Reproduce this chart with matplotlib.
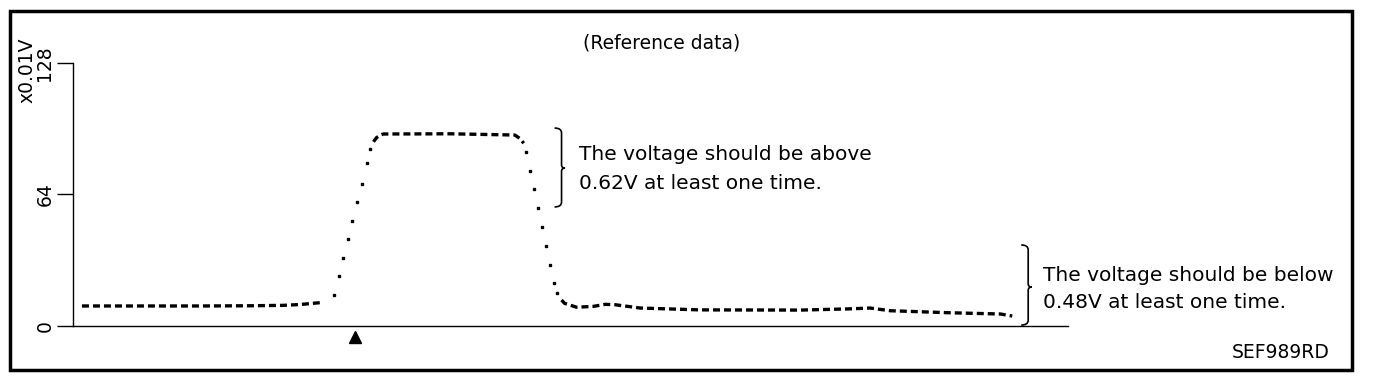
import matplotlib
matplotlib.use("Agg")
import matplotlib.pyplot as plt
from matplotlib.path import Path
from matplotlib.patches import PathPatch, Rectangle

plt.rcParams['font.family'] = ['DejaVu Sans']

# time axis is arbitrary (0-100 across the drawn axis), voltage in x0.01V
idle_t = [0.9, 7.7, 12.8, 17.8, 21.1, 22.8, 24.8]
idle_v = [9.6, 9.6, 9.6, 9.7, 9.9, 10.3, 11.2]

rise_t = [26.2, 26.7, 27.1, 27.6, 28.0, 28.5, 29.0, 29.5, 29.8]
rise_v = [15, 24, 33, 42, 51, 60, 69, 79, 86]

high_t = [30.2, 30.5, 30.9, 31.2, 37.9, 44.4, 44.9, 45.3]
high_v = [89.5, 91.5, 92.8, 93.3, 93.4, 92.8, 91.2, 88.8]

fall_t = [45.5, 45.9, 46.3, 46.7, 47.1, 47.5, 47.9, 48.3, 48.6]
fall_v = [84.7, 75.4, 66.4, 57.1, 47.9, 38.8, 29.5, 20.6, 15.8]

settle_t = [49.1, 49.4, 50.6, 52.3, 53.5, 54.5, 57.0, 63.0, 73.1, 78.1, 80.1, 82.1, 88.1, 93.2, 94.4]
settle_v = [12.5, 10.9, 9.0, 9.4, 10.4, 10.2, 8.6, 7.7, 7.6, 8.2, 8.6, 7.3, 6.3, 5.7, 4.7]

trigger_t = 28.3
y_ticks = [0, 64, 128]
notes = [
    ("The voltage should be above", "0.62V at least one time."),
    ("The voltage should be below", "0.48V at least one time."),
]


def brace(ax, x, y0, y1, ym):
    w, h, tip = 0.7, 2.4, 0.35
    verts = [(x - w, y1), (x, y1), (x, y1 - h),
             (x, ym + 1.6), (x, ym), (x + tip, ym), (x, ym), (x, ym - 1.6),
             (x, y0 + h), (x, y0), (x - w, y0)]
    codes = [Path.MOVETO, Path.CURVE3, Path.CURVE3,
             Path.LINETO, Path.CURVE3, Path.CURVE3, Path.CURVE3, Path.CURVE3,
             Path.LINETO, Path.CURVE3, Path.CURVE3]
    ax.add_patch(PathPatch(Path(verts, codes), fill=False, lw=1.2,
                           ec='black', clip_on=False))


fig = plt.figure(figsize=(13.76, 3.78), dpi=100)
ax = fig.add_axes([73 / 1376, 1 - 325.7 / 378, 995 / 1376, 263 / 378])

dash = dict(color='black', lw=2.4, linestyle=(0, (2.1, 1.2)), solid_capstyle='butt')
dots = dict(color='black', lw=0, marker='s', ms=1.7)
ax.plot(idle_t, idle_v, **dash)
ax.plot(rise_t, rise_v, **dots)
ax.plot(high_t, high_v, **dash)
ax.plot(fall_t, fall_v, **dots)
ax.plot(settle_t, settle_v, **dash)

ax.plot([trigger_t], [-5.3], marker='^', ms=9, color='black', clip_on=False)

ax.set_xlim(0, 100)
ax.set_ylim(0, 128)
ax.spines['top'].set_visible(False)
ax.spines['right'].set_visible(False)
for s in ('left', 'bottom'):
    ax.spines[s].set_linewidth(1.0)
ax.set_xticks([])
ax.set_yticks(y_ticks)
ax.set_yticklabels([str(v) for v in y_ticks], rotation=90, va='center', fontsize=13.5)
ax.tick_params(axis='y', length=11.5, width=1.0, pad=2)

brace(ax, 49.1, 57.8, 96.2, 76.7)
brace(ax, 96.0, 0.3, 39.3, 18.8)

ax.text(50.9, 83.2, notes[0][0], fontsize=14.5, va='center', ha='left')
ax.text(50.9, 69.1, notes[0][1], fontsize=14.5, va='center', ha='left')
ax.text(97.5, 24.6, notes[1][0], fontsize=14.5, va='center', ha='left', clip_on=False)
ax.text(97.5, 11.5, notes[1][1], fontsize=14.5, va='center', ha='left', clip_on=False)

fig.text(662 / 1376, 1 - 43 / 378, "(Reference data)", fontsize=13.5, ha='center', va='center')
fig.text(27 / 1376, 1 - 70 / 378, "x0.01V", fontsize=13.5, rotation=90, ha='center', va='center')
fig.text(1330 / 1376, 1 - 353 / 378, "SEF989RD", fontsize=13.5, ha='right', va='center')

fig.patches.append(Rectangle((9.8 / 1376, 1 - 370 / 378), (1352 - 9.8) / 1376,
                             (370 - 10.5) / 378, transform=fig.transFigure,
                             fill=False, lw=2.5, ec='black'))

fig.savefig("out.png", dpi=100)
